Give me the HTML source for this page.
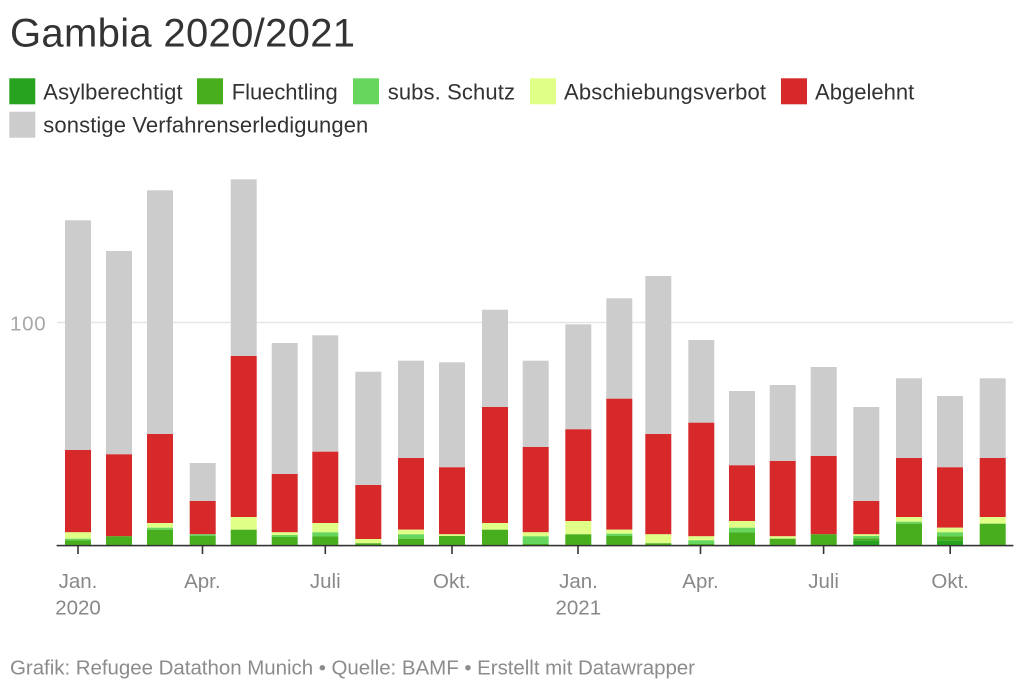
<!DOCTYPE html>
<html>
<head>
<meta charset="utf-8">
<style>
html,body{margin:0;padding:0;background:#fff;}
svg{display:block;}
text{font-family:"Liberation Sans",Arial,sans-serif;}
</style>
</head>
<body>
<svg width="1023" height="688" viewBox="0 0 1023 688" xmlns="http://www.w3.org/2000/svg">
<rect width="1023" height="688" fill="#fff"/>
<text x="10" y="46.7" font-size="40" fill="#333" textLength="345">Gambia 2020/2021</text>

<!-- legend -->
<rect x="9.3" y="78.3" width="26" height="26" fill="#27a31f"/>
<text x="43.3" y="99.3" font-size="22" fill="#333" textLength="139.3">Asylberechtigt</text>
<rect x="197" y="78.3" width="26" height="26" fill="#48ae1e"/>
<text x="231.7" y="99.3" font-size="22" fill="#333" textLength="106">Fluechtling</text>
<rect x="353" y="78.3" width="26" height="26" fill="#67d65d"/>
<text x="387.7" y="99.3" font-size="22" fill="#333" textLength="127.3">subs. Schutz</text>
<rect x="530" y="78.3" width="26" height="26" fill="#e0ff87"/>
<text x="564" y="99.3" font-size="22" fill="#333" textLength="202">Abschiebungsverbot</text>
<rect x="781" y="78.3" width="26" height="26" fill="#d7282a"/>
<text x="815" y="99.3" font-size="22" fill="#333" textLength="99.3">Abgelehnt</text>
<rect x="9.3" y="111.7" width="26" height="26" fill="#cccccc"/>
<text x="43.3" y="132.7" font-size="22" fill="#333" textLength="325">sonstige Verfahrenserledigungen</text>

<!-- grid -->
<line x1="57" y1="322.5" x2="1013" y2="322.5" stroke="#e6e6e6" stroke-width="1.5"/>
<text x="10" y="330.3" font-size="20.5" fill="#a8a8a8" textLength="35.7">100</text>

<g id="bars"></g>

<!-- axis -->
<line x1="56.7" y1="545.6" x2="1013.3" y2="545.6" stroke="#333" stroke-width="1.4"/>
<g stroke="#333" stroke-width="1.6">
<line x1="78" y1="545" x2="78" y2="554"/>
<line x1="202.5" y1="545" x2="202.5" y2="554"/>
<line x1="325.3" y1="545" x2="325.3" y2="554"/>
<line x1="452" y1="545" x2="452" y2="554"/>
<line x1="578" y1="545" x2="578" y2="554"/>
<line x1="700.5" y1="545" x2="700.5" y2="554"/>
<line x1="823.6" y1="545" x2="823.6" y2="554"/>
<line x1="950.2" y1="545" x2="950.2" y2="554"/>
</g>
<g font-size="20.5" fill="#888" text-anchor="middle">
<text x="78" y="588">Jan.</text>
<text x="78" y="614.3">2020</text>
<text x="202.3" y="588">Apr.</text>
<text x="325.3" y="588">Juli</text>
<text x="451.8" y="588">Okt.</text>
<text x="578.5" y="588">Jan.</text>
<text x="578.3" y="614.3">2021</text>
<text x="700.5" y="588">Apr.</text>
<text x="823.6" y="588">Juli</text>
<text x="950.2" y="588">Okt.</text>
</g>

<text x="10" y="674.3" font-size="20.5" fill="#8c8c8c" textLength="685">Grafik: Refugee Datathon Munich • Quelle: BAMF • Erstellt mit Datawrapper</text>

<!-- bars: x, grey top, red top, yellow top, lightgreen top, green top, darkgreen top -->
<g>
<!-- 1 -->
<rect x="65" y="220.3" width="26" height="229.7" fill="#cccccc"/>
<rect x="65" y="450" width="26" height="82.3" fill="#d7282a"/>
<rect x="65" y="532.3" width="26" height="6.4" fill="#e0ff87"/>
<rect x="65" y="538.7" width="26" height="1.6" fill="#67d65d"/>
<rect x="65" y="540.3" width="26" height="4.7" fill="#48ae1e"/>
<!-- 2 -->
<rect x="106" y="251" width="26" height="203.3" fill="#cccccc"/>
<rect x="106" y="454.3" width="26" height="82" fill="#d7282a"/>
<rect x="106" y="536.3" width="26" height="8.7" fill="#48ae1e"/>
<!-- 3 -->
<rect x="147" y="190.3" width="26" height="243.7" fill="#cccccc"/>
<rect x="147" y="434" width="26" height="89" fill="#d7282a"/>
<rect x="147" y="523" width="26" height="4.7" fill="#e0ff87"/>
<rect x="147" y="527.7" width="26" height="2" fill="#67d65d"/>
<rect x="147" y="529.7" width="26" height="15.3" fill="#48ae1e"/>
<!-- 4 -->
<rect x="189.7" y="463" width="26" height="38" fill="#cccccc"/>
<rect x="189.7" y="501" width="26" height="33.3" fill="#d7282a"/>
<rect x="189.7" y="534.3" width="26" height="1.7" fill="#67d65d"/>
<rect x="189.7" y="536" width="26" height="9" fill="#48ae1e"/>
<!-- 5 -->
<rect x="230.7" y="179.3" width="26" height="176.7" fill="#cccccc"/>
<rect x="230.7" y="356" width="26" height="161" fill="#d7282a"/>
<rect x="230.7" y="517" width="26" height="12.7" fill="#e0ff87"/>
<rect x="230.7" y="529.7" width="26" height="15.3" fill="#48ae1e"/>
<!-- 6 -->
<rect x="271.7" y="343" width="26" height="131" fill="#cccccc"/>
<rect x="271.7" y="474" width="26" height="58.3" fill="#d7282a"/>
<rect x="271.7" y="532.3" width="26" height="2.7" fill="#e0ff87"/>
<rect x="271.7" y="535" width="26" height="2" fill="#67d65d"/>
<rect x="271.7" y="537" width="26" height="8" fill="#48ae1e"/>
<!-- 7 -->
<rect x="312.3" y="335.3" width="26" height="116.4" fill="#cccccc"/>
<rect x="312.3" y="451.7" width="26" height="71.3" fill="#d7282a"/>
<rect x="312.3" y="523" width="26" height="9.3" fill="#e0ff87"/>
<rect x="312.3" y="532.3" width="26" height="4" fill="#67d65d"/>
<rect x="312.3" y="536.3" width="26" height="8.7" fill="#48ae1e"/>
<!-- 8 -->
<rect x="355.3" y="371.7" width="26" height="113.3" fill="#cccccc"/>
<rect x="355.3" y="485" width="26" height="54" fill="#d7282a"/>
<rect x="355.3" y="539" width="26" height="4.3" fill="#e0ff87"/>
<rect x="355.3" y="543.3" width="26" height="1.7" fill="#48ae1e"/>
<!-- 9 -->
<rect x="398" y="360.7" width="26" height="97.3" fill="#cccccc"/>
<rect x="398" y="458" width="26" height="71.7" fill="#d7282a"/>
<rect x="398" y="529.7" width="26" height="4.6" fill="#e0ff87"/>
<rect x="398" y="534.3" width="26" height="4.4" fill="#67d65d"/>
<rect x="398" y="538.7" width="26" height="6.3" fill="#48ae1e"/>
<!-- 10 -->
<rect x="439" y="362.3" width="26" height="105" fill="#cccccc"/>
<rect x="439" y="467.3" width="26" height="67" fill="#d7282a"/>
<rect x="439" y="534.3" width="26" height="1.7" fill="#e0ff87"/>
<rect x="439" y="536" width="26" height="9" fill="#48ae1e"/>
<!-- 11 -->
<rect x="482" y="309.7" width="26" height="97.3" fill="#cccccc"/>
<rect x="482" y="407" width="26" height="116" fill="#d7282a"/>
<rect x="482" y="523" width="26" height="6.7" fill="#e0ff87"/>
<rect x="482" y="529.7" width="26" height="15.3" fill="#48ae1e"/>
<!-- 12 -->
<rect x="522.7" y="360.7" width="26" height="86.3" fill="#cccccc"/>
<rect x="522.7" y="447" width="26" height="85.3" fill="#d7282a"/>
<rect x="522.7" y="532.3" width="26" height="4" fill="#e0ff87"/>
<rect x="522.7" y="536.3" width="26" height="7.7" fill="#67d65d"/>
<rect x="522.7" y="544" width="26" height="1" fill="#48ae1e"/>
<!-- 13 -->
<rect x="565.3" y="324.3" width="26" height="105" fill="#cccccc"/>
<rect x="565.3" y="429.3" width="26" height="91.7" fill="#d7282a"/>
<rect x="565.3" y="521" width="26" height="13.3" fill="#e0ff87"/>
<rect x="565.3" y="534.3" width="26" height="10.7" fill="#48ae1e"/>
<!-- 14 -->
<rect x="606.3" y="298.3" width="26" height="100.4" fill="#cccccc"/>
<rect x="606.3" y="398.7" width="26" height="131" fill="#d7282a"/>
<rect x="606.3" y="529.7" width="26" height="4" fill="#e0ff87"/>
<rect x="606.3" y="533.7" width="26" height="2.3" fill="#67d65d"/>
<rect x="606.3" y="536" width="26" height="9" fill="#48ae1e"/>
<!-- 15 -->
<rect x="645.3" y="276" width="26" height="158" fill="#cccccc"/>
<rect x="645.3" y="434" width="26" height="100.3" fill="#d7282a"/>
<rect x="645.3" y="534.3" width="26" height="9" fill="#e0ff87"/>
<rect x="645.3" y="543.3" width="26" height="1.7" fill="#48ae1e"/>
<!-- 16 -->
<rect x="688.3" y="340" width="26" height="82.7" fill="#cccccc"/>
<rect x="688.3" y="422.7" width="26" height="113.6" fill="#d7282a"/>
<rect x="688.3" y="536.3" width="26" height="4" fill="#e0ff87"/>
<rect x="688.3" y="540.3" width="26" height="3.7" fill="#67d65d"/>
<rect x="688.3" y="544" width="26" height="1" fill="#48ae1e"/>
<!-- 17 -->
<rect x="729" y="391" width="26" height="74.3" fill="#cccccc"/>
<rect x="729" y="465.3" width="26" height="55.7" fill="#d7282a"/>
<rect x="729" y="521" width="26" height="6.7" fill="#e0ff87"/>
<rect x="729" y="527.7" width="26" height="4.6" fill="#67d65d"/>
<rect x="729" y="532.3" width="26" height="12.7" fill="#48ae1e"/>
<!-- 18 -->
<rect x="769.7" y="385" width="26" height="76" fill="#cccccc"/>
<rect x="769.7" y="461" width="26" height="75.3" fill="#d7282a"/>
<rect x="769.7" y="536.3" width="26" height="2.4" fill="#e0ff87"/>
<rect x="769.7" y="538.7" width="26" height="6.3" fill="#48ae1e"/>
<!-- 19 -->
<rect x="810.7" y="367" width="26" height="89" fill="#cccccc"/>
<rect x="810.7" y="456" width="26" height="78.3" fill="#d7282a"/>
<rect x="810.7" y="534.3" width="26" height="10.7" fill="#48ae1e"/>
<!-- 20 -->
<rect x="853.3" y="407" width="26" height="94" fill="#cccccc"/>
<rect x="853.3" y="501" width="26" height="33.3" fill="#d7282a"/>
<rect x="853.3" y="534.3" width="26" height="1.7" fill="#e0ff87"/>
<rect x="853.3" y="536" width="26" height="2.3" fill="#67d65d"/>
<rect x="853.3" y="538.3" width="26" height="2" fill="#48ae1e"/>
<rect x="853.3" y="540.3" width="26" height="4.7" fill="#27a31f"/>
<!-- 21 -->
<rect x="896" y="378.3" width="26" height="79.7" fill="#cccccc"/>
<rect x="896" y="458" width="26" height="59" fill="#d7282a"/>
<rect x="896" y="517" width="26" height="4.7" fill="#e0ff87"/>
<rect x="896" y="521.7" width="26" height="2" fill="#67d65d"/>
<rect x="896" y="523.7" width="26" height="21.3" fill="#48ae1e"/>
<!-- 22 -->
<rect x="937" y="396" width="26" height="71.3" fill="#cccccc"/>
<rect x="937" y="467.3" width="26" height="60.4" fill="#d7282a"/>
<rect x="937" y="527.7" width="26" height="4.6" fill="#e0ff87"/>
<rect x="937" y="532.3" width="26" height="4" fill="#67d65d"/>
<rect x="937" y="536.3" width="26" height="4" fill="#48ae1e"/>
<rect x="937" y="540.3" width="26" height="4.7" fill="#27a31f"/>
<!-- 23 -->
<rect x="979.7" y="378.3" width="26" height="79.7" fill="#cccccc"/>
<rect x="979.7" y="458" width="26" height="59" fill="#d7282a"/>
<rect x="979.7" y="517" width="26" height="6.7" fill="#e0ff87"/>
<rect x="979.7" y="523.7" width="26" height="21.3" fill="#48ae1e"/>
</g>
<line x1="56.7" y1="545.6" x2="1013.3" y2="545.6" stroke="#333" stroke-width="1.4"/>
</svg>
</body>
</html>
